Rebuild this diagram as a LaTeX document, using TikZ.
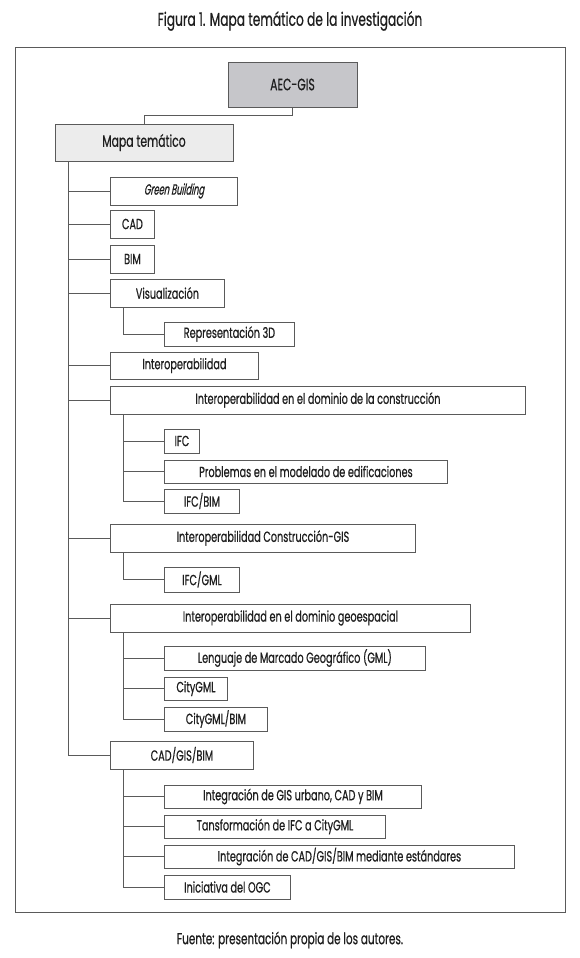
\documentclass[tikz,border=0pt]{standalone}
\usepackage{fontspec}
\usetikzlibrary{calc}
\setmainfont{Poppins}[FakeStretch=0.66,FakeBold=0.6]
\newfontfamily\slfont{Poppins}[FakeStretch=0.56,FakeSlant=0.2,FakeBold=0.6]
\definecolor{linec}{HTML}{5A5A5A}
\definecolor{textc}{HTML}{1E1E1E}
\definecolor{aecfill}{HTML}{C6C6CA}
\definecolor{mapafill}{HTML}{ECECEC}
\tikzset{
  box/.style={draw=linec, line width=0.9pt, inner sep=0pt, anchor=west, text=textc,
    font=\fontsize{14.7}{16}\selectfont},
  conn/.style={draw=linec, line width=0.9pt},
}
\newcommand\mybox[6]{\node[box, minimum width=#4, minimum height=#5] (#1) at (#2,#3) {#6};}
\begin{document}
\begin{tikzpicture}[x=1pt,y=-1pt]
\useasboundingbox (0,0) rectangle (580,958);
\fill[white] (0,0) rectangle (580,958);
\node[text=textc, font=\fontsize{18.5}{20}\selectfont] (title) at (290,21) {Figura 1. Mapa temático de la investigación};
\node[draw=linec, line width=1pt, minimum width=550, minimum height=864, inner sep=0pt] (frame) at (290,480) {};
\node[box, anchor=center, fill=aecfill, minimum width=129, minimum height=45, font=\fontsize{16.4}{18}\selectfont] (aec) at (292.5,84.5) {AEC-GIS};
\node[box, anchor=center, fill=mapafill, minimum width=178, minimum height=37, font=\fontsize{16.4}{18}\selectfont] (mapa) at (144,142.5) {Mapa temático};
\mybox{gb}{110}{191}{127}{28}{\fontsize{14.7}{16}\slfont Green Building}
\mybox{cad}{110}{224}{44}{28}{CAD}
\mybox{bim}{110}{259}{44}{28}{BIM}
\mybox{vis}{110}{293}{114}{28}{Visualización}
\mybox{rtd}{164}{334}{130}{24}{Representación 3D}
\mybox{inter}{110}{365.5}{148}{27}{Interoperabilidad}
\mybox{idc}{110}{400}{415}{28}{Interoperabilidad en el dominio de la construcción}
\mybox{ifc}{164}{441}{35}{24}{IFC}
\mybox{prob}{164}{471.5}{283}{23}{Problemas en el modelado de edificaciones}
\mybox{ifcbim}{164}{501}{75}{24}{IFC/BIM}
\mybox{icg}{110}{538}{305}{28}{Interoperabilidad Construcción-GIS}
\mybox{ifcgml}{164}{579.5}{75}{25}{IFC/GML}
\mybox{igeo}{110}{618}{360}{28}{Interoperabilidad en el dominio geoespacial}
\mybox{leng}{164}{658}{261}{24}{Lenguaje de Marcado Geográfico (GML)}
\mybox{city}{164}{688.5}{63}{23}{CityGML}
\mybox{citybim}{164}{719}{103}{24}{CityGML/BIM}
\mybox{cgb}{110}{755}{143}{28}{CAD/GIS/BIM}
\mybox{intg}{164}{796.5}{257}{23}{Integración de GIS urbano, CAD y BIM}
\mybox{tans}{164}{826.5}{221}{23}{Tansformación de IFC a CityGML}
\mybox{est}{164}{856.5}{350}{23}{Integración de CAD/GIS/BIM mediante estándares}
\mybox{ogc}{164}{887}{126}{24}{Iniciativa del OGC}
\node[text=textc, font=\fontsize{15.8}{17}\selectfont] (foot) at (290,940) {Fuente: presentación propia de los autores.};
% connectors
\draw[conn] (aec.south) -- ++(0,7.5) -| (mapa.north);
\coordinate (T) at ($(mapa.south west)+(14,0)$);
\foreach \n in {gb,cad,bim,vis,inter,idc,icg,igeo,cgb} \draw[conn] (T) |- (\n.west);
\draw[conn] ([xshift=13pt]vis.south west) |- (rtd.west);
\foreach \n in {ifc,prob,ifcbim} \draw[conn] ([xshift=13pt]idc.south west) |- (\n.west);
\draw[conn] ([xshift=13pt]icg.south west) |- (ifcgml.west);
\foreach \n in {leng,city,citybim} \draw[conn] ([xshift=13pt]igeo.south west) |- (\n.west);
\foreach \n in {intg,tans,est,ogc} \draw[conn] ([xshift=13pt]cgb.south west) |- (\n.west);
\end{tikzpicture}
\end{document}
